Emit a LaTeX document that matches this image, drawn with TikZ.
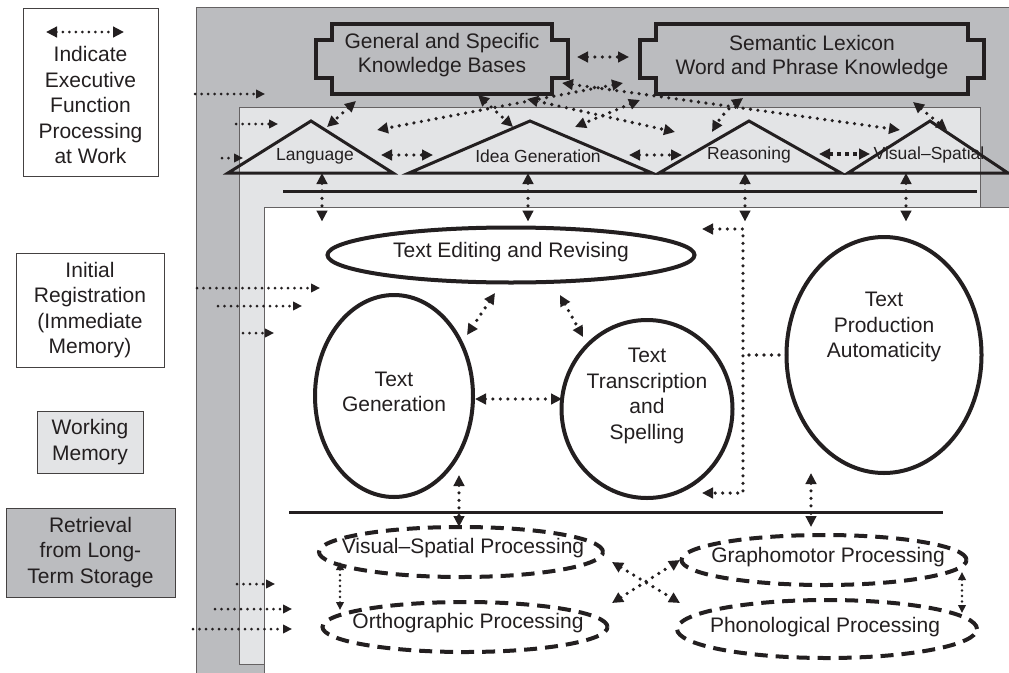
\documentclass[tikz,border=0pt]{standalone}
\usepackage{fontspec}
\setmainfont{Liberation Sans}
\usetikzlibrary{arrows.meta,shapes.geometric,positioning}

\definecolor{ink}{HTML}{231F20}
\definecolor{ltmgray}{HTML}{BBBCBF}
\definecolor{wmgray}{HTML}{E3E4E6}

% notched frame around a knowledge-base node
\newcommand\kbframe[1]{%
  \draw[kb] (#1.north west) -- (#1.north east) -- ++(0,16) -- ++(16,0)
    -- ([shift={(16,-16)}]#1.south east) -- ++(-16,0) -- (#1.south east)
    -- (#1.south west) -- ++(0,-16) -- ++(-16,0)
    -- ([shift={(-16,16)}]#1.north west) -- ++(16,0) -- cycle;}

% domain triangle: name, left x, apex x, right x, x of the arrow foot
\newcommand\tri[5]{%
  \coordinate (#1-l) at (#2,173);
  \coordinate (#1-t) at (#3,121);
  \coordinate (#1-r) at (#4,173);
  \coordinate (#1-b) at (#5,173);
  \draw[tr] (#1-l) -- (#1-t) -- (#1-r) -- cycle;}

\begin{document}
\begin{tikzpicture}[x=1pt,y=-1pt,
  every node/.style={text=ink,outer sep=0pt},
  txt/.style={font=\fontsize{21}{25.5}\selectfont,align=center,inner sep=0pt},
  small/.style={font=\fontsize{17.5}{20}\selectfont,inner sep=0pt},
  keybox/.style={txt,draw=ink!85,line width=0.9pt,minimum width=#1},
  proc/.style={ellipse,draw=ink,line width=4pt,inner sep=0pt},
  sub/.style={proc,dash pattern=on 13pt off 8pt},
  kb/.style={draw=ink,line width=4pt,line join=miter},
  tr/.style={draw=ink,line width=3pt,line join=miter},
  rule/.style={draw=ink,line width=3pt},
  panel/.style={draw=ink!70,line width=0.8pt},
  efline/.style={ink,line width=3.6pt,line cap=round,dash pattern=on 0pt off 7.5pt},
  ef/.style={efline,arrows={Triangle[length=11pt,width=10.5pt]-Triangle[length=11pt,width=10.5pt]}},
  efsm/.style={efline,line width=2.6pt,dash pattern=on 0pt off 5.5pt,
    arrows={Triangle[length=8pt,width=7.5pt]-Triangle[length=8pt,width=7.5pt]}},
  efin/.style={efline,line width=3pt,dash pattern=on 0pt off 6.5pt,
    arrows={-Triangle[length=9pt,width=8.5pt]}}]

\useasboundingbox (0,0) rectangle (1009,672);

% memory panels
\draw[panel,fill=ltmgray] (196,7) rectangle (1020,690);
\draw[panel,fill=wmgray] (239,107) rectangle (980,664);
\draw[panel,fill=white] (264,207) rectangle (1020,690);
\draw[rule] (283,191) -- (977,191);
\draw[rule] (289,512) -- (943,512);

% key
\node[keybox=135,minimum height=168] (efkey) at (90.5,92) {};
\node[txt] (efkey-txt) at (90.5,105) {Indicate\\Executive\\Function\\Processing\\at Work};
\draw[ef,line width=3pt,dash pattern=on 0pt off 6.5pt] ([shift={(-44.5,24)}]efkey.north) -- ([shift={(33.5,24)}]efkey.north);
\node[keybox=148,minimum height=114] (ireg) at (90,310) {Initial\\Registration\\(Immediate\\Memory)};
\node[keybox=106,minimum height=62,fill=wmgray] (wm) at (90,442) {Working\\Memory};
\node[keybox=169,minimum height=89,fill=ltmgray] (ltm) at (90.5,552.5) {Retrieval\\from Long-\\Term Storage};

% knowledge bases
\node[txt,minimum width=220,minimum height=70] (gen) at (442,59) {};
\node[txt,minimum width=312,minimum height=70] (sem) at (812,59) {};
\node[txt,font=\fontsize{21}{23.5}\selectfont] (gen-txt) at ([shift={(0,-4)}]gen.center) {General and Specific\\Knowledge Bases};
\node[txt,font=\fontsize{21}{23.5}\selectfont] (sem-txt) at ([shift={(0,-2)}]sem.center) {Semantic Lexicon\\Word and Phrase Knowledge};
\kbframe{gen}
\kbframe{sem}

% domains
\tri{lang}{228}{311}{393}{322}
\tri{idea}{409}{530}{652}{528}
\tri{reas}{659}{749}{841}{745}
\tri{vis}{848}{930}{1008}{906}
\node[small] (lang) at (315,156) {Language};
\node[small] (idea) at (538,156) {Idea Generation};
\node[small] (reas) at (749,155) {Reasoning};
\node[small] (vis) at (929,155) {Visual–Spatial};

% writing processes
\node[proc,minimum width=367,minimum height=55] (edit) at (511,255) {};
\node[proc,minimum width=158,minimum height=202] (txtgen) at (394,396) {};
\node[proc,minimum width=171,minimum height=178] (trans) at (647,409) {};
\node[proc,minimum width=195,minimum height=236] (tpa) at (884,355) {};
\node[txt] (edit-txt) at ([shift={(0,-3)}]edit.center) {Text Editing and Revising};
\node[txt] (txtgen-txt) at ([shift={(0,-4)}]txtgen.center) {Text\\Generation};
\node[txt] (trans-txt) at ([shift={(0,-13)}]trans.center) {Text\\Transcription\\and\\Spelling};
\node[txt] (tpa-txt) at ([shift={(0,-28)}]tpa.center) {Text\\Production\\Automaticity};

% low-level processing
\node[sub,minimum width=284,minimum height=50] (vsp) at (461,552) {};
\node[sub,minimum width=285,minimum height=50] (orth) at (465,627) {};
\node[sub,minimum width=285,minimum height=50] (graph) at (824,560) {};
\node[sub,minimum width=300,minimum height=58] (phon) at (827,629) {};
\node[txt] (vsp-txt) at ([shift={(2,-4)}]vsp.center) {Visual–Spatial Processing};
\node[txt] (orth-txt) at ([shift={(3,-4)}]orth.center) {Orthographic Processing};
\node[txt] (graph-txt) at ([shift={(4,-3)}]graph.center) {Graphomotor Processing};
\node[txt] (phon-txt) at ([shift={(-2,-2)}]phon.center) {Phonological Processing};

% executive function links: knowledge <-> domains
\draw[ef] ([shift={(25,-2)}]gen.east) -- ([shift={(-27,-2)}]sem.west);
\draw[ef] ([shift={(24,7)}]gen.south west) -- ([shift={(16,6)}]lang-t);
\draw[ef] ([shift={(36,1)}]gen.south) -- ([shift={(-17,6)}]idea-t);
\draw[ef] ([shift={(85,5)}]gen.south) -- ([shift={(-74,11)}]reas-t);
\draw[ef] ([shift={(10,-11)}]gen.south east) -- ([shift={(-30,9)}]vis-t);
\draw[ef] ([shift={(-33,-11)}]sem.south west) -- ([shift={(66,9)}]lang-t);
\draw[ef] ([shift={(-16,6)}]sem.south west) -- ([shift={(45,6)}]idea-t);
\draw[ef] ([shift={(87,4)}]sem.south west) to[bend right=12] ([shift={(-37,11)}]reas-t);
\draw[ef] ([shift={(-55,8)}]sem.south east) -- ([shift={(17,9)}]vis-t);

% domain <-> domain
\draw[ef] ([shift={(-12,-18)}]lang-r) -- ([shift={(24,-18)}]idea-l);
\draw[ef] ([shift={(-23,-18)}]idea-r) -- ([shift={(23,-18)}]reas-l);
\draw[ef,line cap=butt,dash pattern=on 4pt off 4pt] ([shift={(-22,-19)}]reas-r) -- ([shift={(22,-19)}]vis-l);

% domains down into the writing processes
\foreach \d in {lang,idea,reas,vis}
  \draw[ef,shorten >=6pt] (\d-b) -- (\d-b |- edit.north);

% among the writing processes
\draw[ef] ([shift={(-16,10.5)}]edit.south) -- ([shift={(73,40)}]txtgen.north);
\draw[ef] ([shift={(49,12.5)}]edit.south) -- ([shift={(-64,17)}]trans.north);
\draw[ef] ([shift={(2,3)}]txtgen.east) -- ([shift={(0.5,-10)}]trans.west);
\coordinate (hub) at ([xshift=-43.5pt]tpa.west);
\draw[ef] ([shift={(7.5,-26)}]edit.east) -| (hub) |- ([shift={(55,-5)}]trans.south);
\draw[efline] (tpa.west) -- (hub);

% down to the low-level processes
\draw[ef] ([shift={(65,-22)}]txtgen.south) -- ([shift={(-2,0)}]vsp.north);
\draw[ef] ([shift={(-73,0)}]tpa.south) -- ([shift={(-13,-8)}]graph.north);
\draw[efsm] ([shift={(21,10)}]vsp.west) -- ([shift={(17.5,-17)}]orth.west);
\draw[efsm] ([shift={(-4.5,12)}]graph.east) -- ([shift={(-15,-16)}]phon.east);
\draw[ef] ([shift={(9,10)}]vsp.east) -- ([shift={(3,-26)}]phon.west);
\draw[ef] ([shift={(4.5,-24)}]orth.east) -- ([shift={(-1.5,0)}]graph.west);

% inputs entering each memory level
\foreach \x/\y/\e in {195/94/265, 236/124/278, 222/158/243,
                      197/288/320, 218/306/302, 243/333/274,
                      237/584/275, 215/609/292, 193/629/292}
  \draw[efin] (\x,\y) -- (\e,\y);

\end{tikzpicture}
\end{document}
